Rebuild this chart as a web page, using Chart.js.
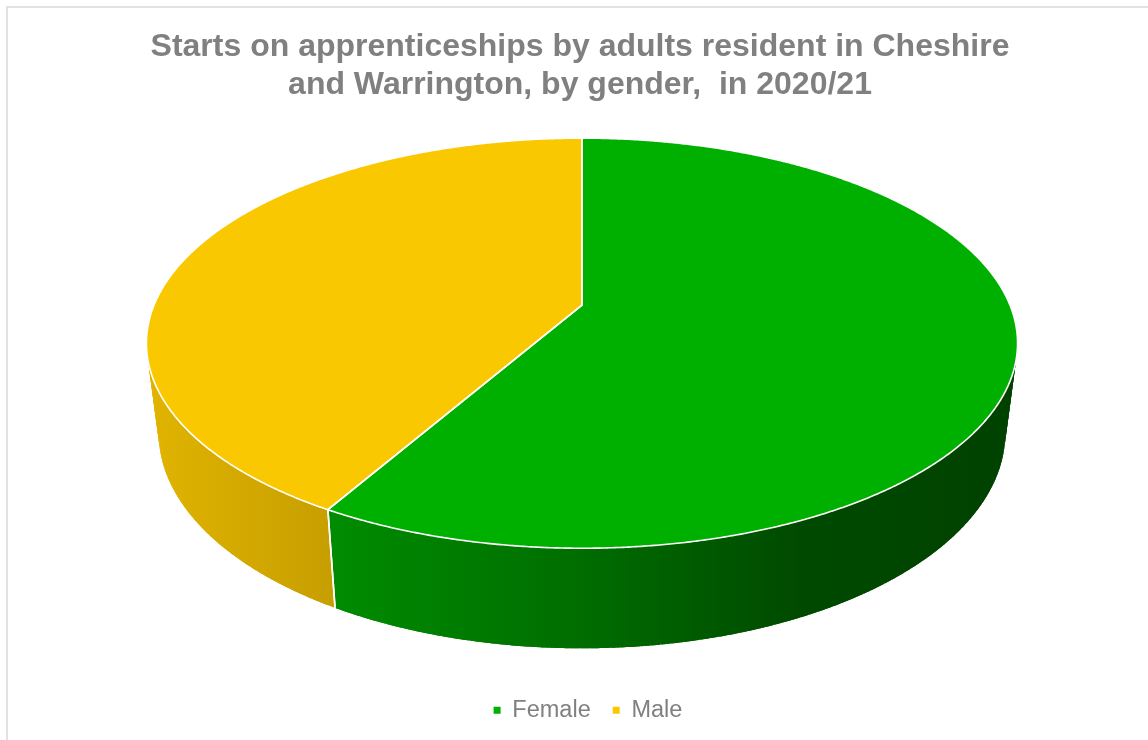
<!DOCTYPE html>
<html><head><meta charset="utf-8">
<script src="https://cdn.jsdelivr.net/npm/chart.js@4/dist/chart.umd.min.js"></script>
<style>html,body{margin:0;padding:0;background:#fff}#wrap{width:1148px;height:740px}</style>
</head><body><div id="wrap"><canvas id="c" width="1148" height="740"></canvas></div>
<script>
const categories = ['Female', 'Male'];
const values = [58.3, 41.7];
const sliceColors = ['#00B000', '#FAC800'];
const titleLines = ['Starts on apprenticeships by adults resident in Cheshire', 'and Warrington, by gender,  in 2020/21'];

// 3D view style (perspective tilt of the pie, relative to the chart area centre)
const VIEW = { dx: 2, topDy: -89, rx: 428, ry: 198, persp: -0.1855, botDy: -1.2, botRx: 416, botRy: 208 };
// side-wall shading across the pie width: [fraction, brightness]
const SHADE = [[0, 0.9], [0.22, 0.79], [0.5, 0.62], [0.75, 0.42], [1, 0.37]];
const LEGEND_SHIFT = 8;

function hexRgb(h){ h = h.replace('#',''); return [0,2,4].map(i => parseInt(h.substr(i,2),16)); }
function shadeCol(h, f){ const c = hexRgb(h).map(v => Math.round(v*f)); return `rgb(${c[0]},${c[1]},${c[2]})`; }

const pie3d = {
  id: 'pie3d',
  afterLayout(chart){
    if (chart.legend) { chart.legend.left += LEGEND_SHIFT; chart.legend.right += LEGEND_SHIFT; }
  },
  beforeDraw(chart){
    const ctx = chart.ctx;
    ctx.save();
    ctx.strokeStyle = '#e2e2e2';
    ctx.lineWidth = 2;
    ctx.strokeRect(7, 7, chart.width + 20, chart.height + 20);
    ctx.restore();
  },
  beforeDatasetsDraw(chart){
    const ctx = chart.ctx, area = chart.chartArea;
    const meta = chart.getDatasetMeta(0);
    const cx = (area.left + area.right)/2 + VIEW.dx;
    const cm = (area.top + area.bottom)/2;
    const cyT = cm + VIEW.topDy, cyB = cm + VIEW.botDy;
    const k = VIEW.persp;
    const P = (a, cy, rx, ry) => { const u = Math.cos(a), w = Math.sin(a), d = 1 + k*w; return [cx + rx*u/d, cy + ry*w/d]; };
    const top = a => P(a, cyT, VIEW.rx, VIEW.ry);
    const bot = a => P(a, cyB, VIEW.botRx, VIEW.botRy);
    const arcs = meta.data;
    const V0 = -0.35, V1 = Math.PI + 0.35;
    const gx0 = cx - VIEW.rx*1.018, gx1 = cx + VIEW.rx*1.018;
    ctx.save();
    // side walls (overlapping strips so no seams show)
    arcs.forEach((arc, i) => {
      const s0 = arc.startAngle, e0 = arc.endAngle;
      const grad = ctx.createLinearGradient(gx0, 0, gx1, 0);
      SHADE.forEach(([f, b]) => grad.addColorStop(f, shadeCol(sliceColors[i], b)));
      ctx.fillStyle = grad;
      [-2*Math.PI, 0, 2*Math.PI].forEach(off => {
        const lo = Math.max(s0 + off, V0), hi = Math.min(e0 + off, V1);
        if (hi <= lo) return;
        const n = Math.max(2, Math.ceil((hi - lo) / 0.02));
        const st = (hi - lo)/n;
        for (let j = 0; j < n; j++) {
          const a1 = lo + st*j, a2 = Math.min(hi, lo + st*(j+1) + st*0.9);
          ctx.beginPath();
          const m = 6;
          for (let q = 0; q <= m; q++) { const p = top(a1 + (a2-a1)*q/m); q ? ctx.lineTo(p[0], p[1]) : ctx.moveTo(p[0], p[1]); }
          for (let q = m; q >= 0; q--) { const p = bot(a1 + (a2-a1)*q/m); ctx.lineTo(p[0], p[1]); }
          ctx.closePath(); ctx.fill();
        }
      });
    });
    // split lines on the walls
    ctx.strokeStyle = '#ffffff'; ctx.lineWidth = 1.6;
    arcs.forEach(arc => {
      [arc.startAngle, arc.endAngle].forEach(a => {
        let t = ((a % (2*Math.PI)) + 2*Math.PI) % (2*Math.PI);
        if (t > 0.02 && t < Math.PI - 0.02) {
          const p = top(t), q = bot(t);
          ctx.beginPath(); ctx.moveTo(p[0], p[1]); ctx.lineTo(q[0], q[1]); ctx.stroke();
        }
      });
    });
    // top faces
    const centre = [cx, cyT];
    const facePath = arc => {
      const s0 = arc.startAngle, e0 = arc.endAngle;
      const n = Math.max(4, Math.ceil((e0 - s0) / 0.005));
      ctx.beginPath();
      ctx.moveTo(centre[0], centre[1]);
      for (let j = 0; j <= n; j++) { const p = top(s0 + (e0 - s0)*j/n); ctx.lineTo(p[0], p[1]); }
      ctx.closePath();
    };
    arcs.forEach((arc, i) => { facePath(arc); ctx.fillStyle = sliceColors[i]; ctx.fill(); });
    ctx.strokeStyle = '#ffffff'; ctx.lineWidth = 1.6; ctx.lineJoin = 'round';
    arcs.forEach(arc => { facePath(arc); ctx.stroke(); });
    ctx.restore();
    return false;
  }
};

new Chart(document.getElementById('c'), {
  type: 'pie',
  data: {
    labels: categories,
    datasets: [{ data: values, backgroundColor: sliceColors, borderWidth: 0 }]
  },
  options: {
    responsive: false,
    animation: false,
    events: [],
    layout: { padding: { left: 12, right: 0, top: 15, bottom: 8 } },
    plugins: {
      title: {
        display: true,
        text: titleLines,
        color: '#808080',
        font: { family: '"Liberation Sans", Arial, sans-serif', size: 32, weight: 'bold', lineHeight: 1.2 },
        padding: { top: 13, bottom: 7 }
      },
      legend: {
        display: true,
        position: 'bottom',
        labels: {
          color: '#808080',
          font: { family: '"Liberation Sans", Arial, sans-serif', size: 23.5 },
          usePointStyle: true,
          pointStyle: 'rect',
          boxWidth: 7,
          boxHeight: 7,
          padding: 22,
          generateLabels(chart) {
            const items = Chart.overrides.pie.plugins.legend.labels.generateLabels(chart);
            return items.map(it => Object.assign(it, { lineWidth: 0, strokeStyle: 'rgba(0,0,0,0)', pointStyle: 'rect' }));
          }
        }
      },
      tooltip: { enabled: false }
    }
  },
  plugins: [pie3d]
});
</script>
</body></html>
